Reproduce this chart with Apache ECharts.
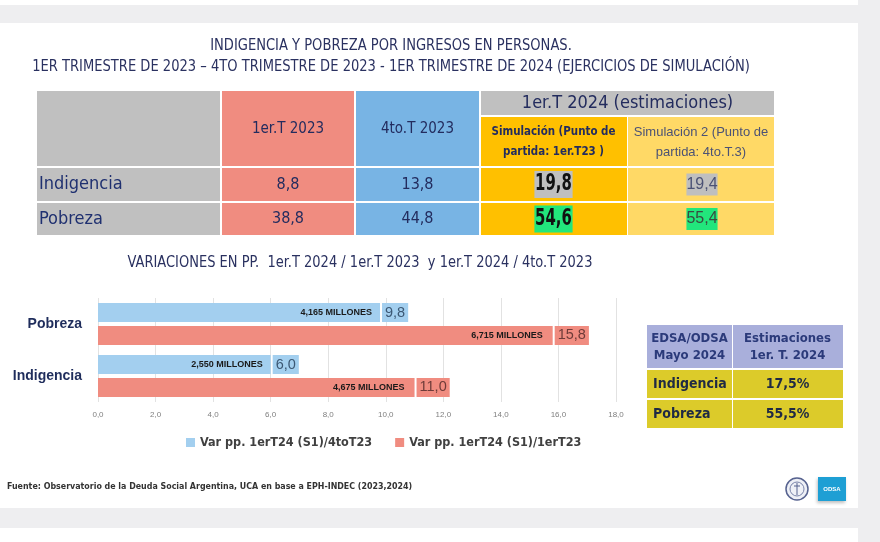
<!DOCTYPE html>
<html>
<head>
<meta charset="utf-8">
<script src="https://cdn.jsdelivr.net/npm/echarts@6/dist/echarts.min.js"></script>
<style>html,body{margin:0;padding:0;background:#fff}#c{width:880px;height:542px}</style>
</head>
<body>
<div id="c"></div>
<script>
// ---------- DATA ----------
const titleLines = ['INDIGENCIA Y POBREZA POR INGRESOS EN PERSONAS.',
  '1ER TRIMESTRE DE 2023 \u2013 4TO TRIMESTRE DE 2023 - 1ER TRIMESTRE DE 2024 (EJERCICIOS DE SIMULACIÓN)'];
const tableGroupHeader = '1er.T 2024 (estimaciones)';
const tableCols = ['1er.T 2023', '4to.T 2023', 'Simulación (Punto de\npartida: 1er.T23 )', 'Simulación 2 (Punto de\npartida: 4to.T.3)'];
const tableRows = ['Indigencia', 'Pobreza'];
const val1erT2023 = [8.8, 38.8];
const val4toT2023 = [13.8, 44.8];
const valSim1 = [19.8, 54.6];
const valSim2 = [19.4, 55.4];

const chartTitle = 'VARIACIONES EN PP.  1er.T 2024 / 1er.T 2023  y 1er.T 2024 / 4to.T 2023';
const barCategories = ['Pobreza', 'Indigencia'];
const seriesNames = ['Var pp. 1erT24 (S1)/4toT23', 'Var pp. 1erT24 (S1)/1erT23'];
const var4toT23 = [9.8, 6.0];
const var1erT23 = [15.8, 11.0];
const millones4toT23 = ['4,165 MILLONES', '2,550 MILLONES'];
const millones1erT23 = ['6,715 MILLONES', '4,675 MILLONES'];
const xMin = 0, xMax = 18, xStep = 2;

const edsaHeader = ['EDSA/ODSA\nMayo 2024', 'Estimaciones\n1er. T. 2024'];
const edsaRows = ['Indigencia', 'Pobreza'];
const edsaValues = [17.5, 55.5];

const sourceText = 'Fuente: Observatorio de la Deuda Social Argentina, UCA en base a EPH-INDEC (2023,2024)';
const logoText = 'ODSA';

// ---------- helpers ----------
const F = "'Liberation Sans Narrow','DejaVu Sans Condensed','Liberation Sans',sans-serif";
const F2 = "'Liberation Sans','DejaVu Sans',sans-serif";
const NAVY = '#232c5e';
const fmt = v => v.toFixed(1).replace('.', ',');
function rect(x, y, w, h, fill, extra) {
  return Object.assign({ type: 'rect', shape: { x, y, width: w, height: h }, style: { fill }, silent: true }, extra || {});
}
function text(x, y, t, size, fill, opts) {
  opts = opts || {};
  const el = {
    type: 'text', x, y, silent: true, z: 10,
    style: Object.assign({
      text: t, fontSize: size, fontFamily: opts.family || F, fontWeight: opts.weight || 'normal',
      fill, align: opts.align || 'center', verticalAlign: 'middle', lineHeight: opts.lh || size * 1.2
    }, opts.style || {})
  };
  if (opts.sx) el.scaleX = opts.sx;
  return el;
}

const g = [];
// page background bands
g.push(rect(0, 5, 880, 18, '#eeeef0'));
g.push(rect(0, 508, 880, 20, '#eeeef0'));
g.push(rect(858, 0, 22, 542, '#eeeef0'));

// main title
g.push(text(391, 46, titleLines[0], 15, '#2a3160', { sx: 0.97 }));
g.push(text(391, 67, titleLines[1], 15, '#2a3160', { sx: 0.97 }));

// ---------- upper table ----------
const TX = [37, 221, 355, 480, 627, 775];
const HY = [91, 166];
const RY = [[168, 201], [203, 235]];
const colFill = ['#c0c0c0', '#f08c80', '#78b4e4', '#ffc000', '#ffd966'];
// header
g.push(rect(TX[0], HY[0], TX[1] - TX[0] - 1, HY[1] - HY[0], colFill[0]));
g.push(rect(TX[1] + 1, HY[0], TX[2] - TX[1] - 2, HY[1] - HY[0], colFill[1]));
g.push(rect(TX[2] + 1, HY[0], TX[3] - TX[2] - 2, HY[1] - HY[0], colFill[2]));
g.push(rect(TX[3] + 1, HY[0], TX[5] - TX[3] - 2, 24, '#c0c0c0'));
g.push(rect(TX[3] + 1, 117, TX[4] - TX[3] - 1, HY[1] - 117, colFill[3]));
g.push(rect(TX[4] + 1, 117, TX[5] - TX[4] - 2, HY[1] - 117, colFill[4]));
g.push(text((TX[3] + TX[5]) / 2, 103, tableGroupHeader, 18, NAVY));
g.push(text((TX[1] + TX[2]) / 2, 129, tableCols[0], 15, NAVY));
g.push(text((TX[2] + TX[3]) / 2, 129, tableCols[1], 15, NAVY));
g.push(text((TX[3] + TX[4]) / 2, 142, tableCols[2], 13, NAVY, { lh: 20, weight: 'bold', sx: 0.88 }));
g.push(text((TX[4] + TX[5]) / 2, 142, tableCols[3], 13, '#4b5275', { family: F2, lh: 20 }));
// rows
tableRows.forEach((r, i) => {
  const y0 = RY[i][0], h = RY[i][1] - RY[i][0], cy = y0 + h / 2;
  g.push(rect(TX[0], y0, TX[1] - TX[0] - 1, h, colFill[0]));
  g.push(rect(TX[1] + 1, y0, TX[2] - TX[1] - 2, h, colFill[1]));
  g.push(rect(TX[2] + 1, y0, TX[3] - TX[2] - 2, h, colFill[2]));
  g.push(rect(TX[3] + 1, y0, TX[4] - TX[3] - 1, h, colFill[3]));
  g.push(rect(TX[4] + 1, y0, TX[5] - TX[4] - 2, h, colFill[4]));
  g.push(text(TX[0] + 2, cy, r, 18, '#1f3070', { align: 'left' }));
  g.push(text((TX[1] + TX[2]) / 2, cy, fmt(val1erT2023[i]), 16, NAVY));
  g.push(text((TX[2] + TX[3]) / 2, cy, fmt(val4toT2023[i]), 16, NAVY));
  const hl = i === 0 ? '#bfbfbf' : '#22e67c';
  g.push(text((TX[3] + TX[4]) / 2, cy, fmt(valSim1[i]), 23, '#111111',
    { weight: 'bold', lh: 27, sx: 0.72, style: { backgroundColor: hl, padding: [0, 1, 0, 1] } }));
  g.push(text((TX[4] + TX[5]) / 2 + 1, cy, fmt(valSim2[i]), 16, i === 0 ? '#4b5275' : '#3a4a40',
    { family: F2, lh: 22, style: { backgroundColor: hl, padding: [0, 0, 0, 0] } }));
});

// chart title
g.push(text(360, 263, chartTitle, 15, '#2a3160', { sx: 0.965 }));

// ---------- right table ----------
const EX = [647, 732, 843];
g.push(rect(EX[0], 325, EX[1] - EX[0], 43, '#a9afdb'));
g.push(rect(EX[1] + 1, 325, EX[2] - EX[1] - 1, 43, '#a9afdb'));
g.push(text((EX[0] + EX[1]) / 2, 347, edsaHeader[0], 13, '#2b3a7a', { weight: 'bold', lh: 17 }));
g.push(text((EX[1] + EX[2]) / 2, 347, edsaHeader[1], 13, '#2b3a7a', { weight: 'bold', lh: 17 }));
edsaRows.forEach((r, i) => {
  const y0 = 370 + i * 30;
  g.push(rect(EX[0], y0, EX[1] - EX[0], 28, '#dccb2a'));
  g.push(rect(EX[1] + 1, y0, EX[2] - EX[1] - 1, 28, '#dccb2a'));
  g.push(text(EX[0] + 6, y0 + 14, r, 14, '#1f2a44', { align: 'left', weight: 'bold' }));
  g.push(text((EX[1] + EX[2]) / 2, y0 + 14, fmt(edsaValues[i]) + '%', 14, '#1f2a44', { weight: 'bold' }));
});

// ---------- footer ----------
g.push(text(7, 487, sourceText, 8.8, '#333333', { align: 'left', weight: 'bold' }));
g.push({ type: 'circle', shape: { cx: 797, cy: 489, r: 11 }, style: { fill: '#eef0f6', stroke: '#56628f', lineWidth: 1.5 }, silent: true });
g.push({ type: 'circle', shape: { cx: 797, cy: 489, r: 7 }, style: { fill: 'none', stroke: '#7a84aa', lineWidth: 1 }, silent: true });
g.push({ type: 'polyline', shape: { points: [[797, 483], [797, 495]] }, style: { stroke: '#56628f', lineWidth: 1 }, silent: true });
g.push({ type: 'polyline', shape: { points: [[794, 486], [800, 486]] }, style: { stroke: '#56628f', lineWidth: 1 }, silent: true });
g.push(rect(818, 477, 28, 24, '#1e9fd4', { style: { fill: '#1e9fd4', shadowBlur: 3, shadowColor: 'rgba(0,0,0,0.25)', shadowOffsetX: -1, shadowOffsetY: 2 } }));
g.push(text(832, 489, logoText, 6, '#ffffff', { weight: 'bold', family: F2 }));

// ---------- chart ----------
const labelFmt = p => fmt(p.value);
const option = {
  backgroundColor: '#ffffff',
  animation: false,
  graphic: g,
  grid: { left: 98, width: 518, top: 298, height: 104 },
  legend: {
    data: seriesNames, left: 181, top: 431, itemWidth: 9, itemHeight: 9, itemGap: 23,
    icon: 'rect',
    textStyle: { fontFamily: F, fontSize: 12.5, color: '#404040', fontWeight: 'bold' }
  },
  xAxis: {
    type: 'value', min: xMin, max: xMax, interval: xStep,
    axisLine: { show: false }, axisTick: { show: false },
    splitLine: { lineStyle: { color: '#e2e2e2', width: 1 } },
    axisLabel: { formatter: v => fmt(v), fontSize: 8, color: '#7f7f7f', fontFamily: F2, margin: 9 }
  },
  yAxis: [
    {
      type: 'category', data: barCategories, inverse: true,
      axisLine: { show: false }, axisTick: { show: false },
      axisLabel: { fontFamily: F2, fontSize: 14, fontWeight: 'bold', color: '#1f2d5c', margin: 16 }
    },
    { type: 'category', data: barCategories, inverse: true, show: false }
  ],
  series: [
    {
      name: seriesNames[0], type: 'bar', data: var4toT23, barCategoryGap: '19%', barGap: '20%',
      itemStyle: { color: '#a3cfef' },
      label: { show: true, position: 'right', distance: 2, formatter: labelFmt, backgroundColor: '#a3cfef',
        padding: [2, 3, 2, 3], fontFamily: F2, fontSize: 14.5, lineHeight: 15, color: '#3c5874' }
    },
    {
      name: seriesNames[1], type: 'bar', data: var1erT23, barCategoryGap: '19%', barGap: '20%',
      itemStyle: { color: '#f08c80' },
      label: { show: true, position: 'right', distance: 2, formatter: labelFmt, backgroundColor: '#f08c80',
        padding: [2, 3, 2, 3], fontFamily: F2, fontSize: 14.5, lineHeight: 15, color: '#6e3b38' }
    },
    {
      type: 'bar', yAxisIndex: 1, data: var4toT23, barCategoryGap: '19%', barGap: '20%', silent: true,
      itemStyle: { color: 'rgba(0,0,0,0)' }, z: 5,
      label: { show: true, position: 'insideRight', distance: 8, formatter: p => millones4toT23[p.dataIndex],
        fontFamily: F2, fontSize: 9, fontWeight: 'bold', color: '#1a1a1a' }
    },
    {
      type: 'bar', yAxisIndex: 1, data: var1erT23, barCategoryGap: '19%', barGap: '20%', silent: true,
      itemStyle: { color: 'rgba(0,0,0,0)' }, z: 5,
      label: { show: true, position: 'insideRight', distance: 10, formatter: p => millones1erT23[p.dataIndex],
        fontFamily: F2, fontSize: 9, fontWeight: 'bold', color: '#1a1a1a' }
    }
  ]
};
const chart = echarts.init(document.getElementById('c'), null, { renderer: 'canvas' });
chart.setOption(option);
</script>
</body>
</html>
